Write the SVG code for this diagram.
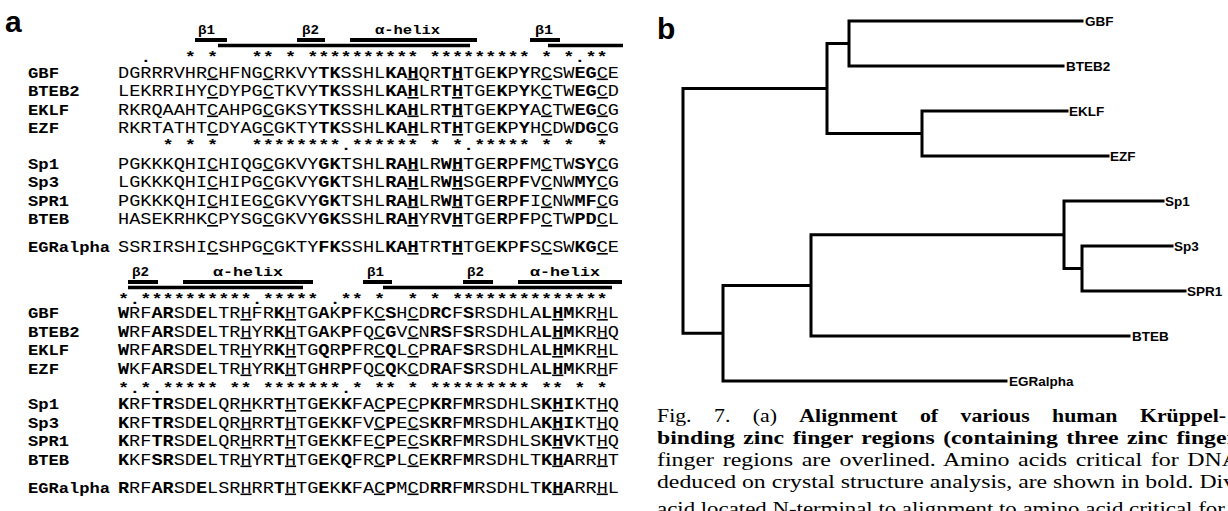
<svg xmlns="http://www.w3.org/2000/svg" width="1228" height="511" viewBox="0 0 1228 511">
<style>
text{fill:#000}
.pl{font-family:"Liberation Sans",Arial,sans-serif;font-weight:bold;font-size:30px}
.s{font-family:"Liberation Mono","Courier New",monospace;font-size:16px}
.n{font-family:"Liberation Mono","Courier New",monospace;font-size:15px;font-weight:bold}
.st{font-family:"Liberation Mono","Courier New",monospace;font-size:14px;font-weight:bold}
.lb{font-family:"Liberation Mono","Courier New",monospace;font-size:13px;font-weight:bold}
.b{font-weight:bold}
.u{text-decoration:underline}
.bar{stroke:#000;stroke-width:4}
.lbar{stroke:#000;stroke-width:3.5}
.tr{stroke:#000;stroke-width:3;fill:none;stroke-linecap:square}
.lf{font-family:"Liberation Sans",Arial,sans-serif;font-weight:bold;font-size:13.5px}
.cap{font-family:"Liberation Serif","Times New Roman",serif;font-size:18px}
</style>
<g id="panel-a">
<text class="pl" x="5" y="32">a</text>
<g id="block1-header">
<text class="lb" x="198" y="34" textLength="17" lengthAdjust="spacingAndGlyphs">β1</text>
<text class="lb" x="302" y="34" textLength="17" lengthAdjust="spacingAndGlyphs">β2</text>
<text class="lb" x="375" y="34" textLength="65" lengthAdjust="spacingAndGlyphs">α-helix</text>
<text class="lb" x="535" y="34" textLength="18" lengthAdjust="spacingAndGlyphs">β1</text>
<line class="bar" x1="195" y1="40" x2="227" y2="40"/>
<line class="bar" x1="297" y1="40" x2="325" y2="40"/>
<line class="bar" x1="350" y1="40" x2="477" y2="40"/>
<line class="bar" x1="530" y1="40" x2="560" y2="40"/>
<line class="lbar" x1="218" y1="45.5" x2="470" y2="45.5"/>
<line class="lbar" x1="548" y1="45.5" x2="623" y2="45.5"/>
<text class="st" x="118" y="62" xml:space="preserve" textLength="489.7" lengthAdjust="spacingAndGlyphs">  .   * *   ** * ********** ********* * *.**</text>
</g>
<g id="block1-klf">
<text class="n" x="28" y="77.5" textLength="31" lengthAdjust="spacingAndGlyphs">GBF</text>
<text class="s" x="118" y="77.5" textLength="501" lengthAdjust="spacingAndGlyphs">DGRRRVHR<tspan class="u">C</tspan>HFNG<tspan class="u">C</tspan>RKVY<tspan class="b">TK</tspan>SSHL<tspan class="b">KA</tspan><tspan class="b u">H</tspan>QR<tspan class="b">T</tspan><tspan class="b u">H</tspan>TGE<tspan class="b">K</tspan>P<tspan class="b">Y</tspan>R<tspan class="u">C</tspan>SW<tspan class="b">EG</tspan><tspan class="u">C</tspan>E</text>
<text class="n" x="28" y="96" textLength="51.5" lengthAdjust="spacingAndGlyphs">BTEB2</text>
<text class="s" x="118" y="96" textLength="501" lengthAdjust="spacingAndGlyphs">LEKRRIHY<tspan class="u">C</tspan>DYPG<tspan class="u">C</tspan>TKVY<tspan class="b">TK</tspan>SSHL<tspan class="b">KA</tspan><tspan class="b u">H</tspan>LR<tspan class="b">T</tspan><tspan class="b u">H</tspan>TGE<tspan class="b">K</tspan>P<tspan class="b">Y</tspan>K<tspan class="u">C</tspan>TW<tspan class="b">EG</tspan><tspan class="u">C</tspan>D</text>
<text class="n" x="28" y="114.5" textLength="41" lengthAdjust="spacingAndGlyphs">EKLF</text>
<text class="s" x="118" y="114.5" textLength="501" lengthAdjust="spacingAndGlyphs">RKRQAAHT<tspan class="u">C</tspan>AHPG<tspan class="u">C</tspan>GKSY<tspan class="b">TK</tspan>SSHL<tspan class="b">KA</tspan><tspan class="b u">H</tspan>LR<tspan class="b">T</tspan><tspan class="b u">H</tspan>TGE<tspan class="b">K</tspan>P<tspan class="b">Y</tspan>A<tspan class="u">C</tspan>TW<tspan class="b">EG</tspan><tspan class="u">C</tspan>G</text>
<text class="n" x="28" y="133" textLength="31" lengthAdjust="spacingAndGlyphs">EZF</text>
<text class="s" x="118" y="133" textLength="501" lengthAdjust="spacingAndGlyphs">RKRTATHT<tspan class="u">C</tspan>DYAG<tspan class="u">C</tspan>GKTY<tspan class="b">TK</tspan>SSHL<tspan class="b">KA</tspan><tspan class="b u">H</tspan>LR<tspan class="b">T</tspan><tspan class="b u">H</tspan>TGE<tspan class="b">K</tspan>P<tspan class="b">Y</tspan>H<tspan class="u">C</tspan>DW<tspan class="b">DG</tspan><tspan class="u">C</tspan>G</text>
</g>
<text class="st" x="118" y="150" xml:space="preserve" textLength="489.7" lengthAdjust="spacingAndGlyphs">    * * *   ********.****** * *.***** * *  *</text>
<g id="block1-sp">
<text class="n" x="28" y="168.5" textLength="31" lengthAdjust="spacingAndGlyphs">Sp1</text>
<text class="s" x="118" y="168.5" textLength="501" lengthAdjust="spacingAndGlyphs">PGKKKQHI<tspan class="u">C</tspan>HIQG<tspan class="u">C</tspan>GKVY<tspan class="b">GK</tspan>TSHL<tspan class="b">RA</tspan><tspan class="b u">H</tspan>LR<tspan class="b">W</tspan><tspan class="b u">H</tspan>TGE<tspan class="b">R</tspan>P<tspan class="b">F</tspan>M<tspan class="u">C</tspan>TW<tspan class="b">SY</tspan><tspan class="u">C</tspan>G</text>
<text class="n" x="28" y="187" textLength="31" lengthAdjust="spacingAndGlyphs">Sp3</text>
<text class="s" x="118" y="187" textLength="501" lengthAdjust="spacingAndGlyphs">LGKKKQHI<tspan class="u">C</tspan>HIPG<tspan class="u">C</tspan>GKVY<tspan class="b">GK</tspan>TSHL<tspan class="b">RA</tspan><tspan class="b u">H</tspan>LR<tspan class="b">W</tspan><tspan class="b u">H</tspan>SGE<tspan class="b">R</tspan>P<tspan class="b">F</tspan>V<tspan class="u">C</tspan>NW<tspan class="b">MY</tspan><tspan class="u">C</tspan>G</text>
<text class="n" x="28" y="205.5" textLength="41" lengthAdjust="spacingAndGlyphs">SPR1</text>
<text class="s" x="118" y="205.5" textLength="501" lengthAdjust="spacingAndGlyphs">PGKKKQHI<tspan class="u">C</tspan>HIEG<tspan class="u">C</tspan>GKVY<tspan class="b">GK</tspan>TSHL<tspan class="b">RA</tspan><tspan class="b u">H</tspan>LR<tspan class="b">W</tspan><tspan class="b u">H</tspan>TGE<tspan class="b">R</tspan>P<tspan class="b">F</tspan>I<tspan class="u">C</tspan>NW<tspan class="b">MF</tspan><tspan class="u">C</tspan>G</text>
<text class="n" x="28" y="224" textLength="41" lengthAdjust="spacingAndGlyphs">BTEB</text>
<text class="s" x="118" y="224" textLength="501" lengthAdjust="spacingAndGlyphs">HASEKRHK<tspan class="u">C</tspan>PYSG<tspan class="u">C</tspan>GKVY<tspan class="b">GK</tspan>SSHL<tspan class="b">RA</tspan><tspan class="b u">H</tspan>YR<tspan class="b">V</tspan><tspan class="b u">H</tspan>TGE<tspan class="b">R</tspan>P<tspan class="b">F</tspan>P<tspan class="u">C</tspan>TW<tspan class="b">PD</tspan><tspan class="u">C</tspan>L</text>
</g>
<g id="block1-egr">
<text class="n" x="28" y="252" textLength="82" lengthAdjust="spacingAndGlyphs">EGRalpha</text>
<text class="s" x="118" y="252" textLength="501" lengthAdjust="spacingAndGlyphs">SSRIRSHI<tspan class="u">C</tspan>SHPG<tspan class="u">C</tspan>GKTY<tspan class="b">FK</tspan>SSHL<tspan class="b">KA</tspan><tspan class="b u">H</tspan>TR<tspan class="b">T</tspan><tspan class="b u">H</tspan>TGE<tspan class="b">K</tspan>P<tspan class="b">F</tspan>S<tspan class="u">C</tspan>SW<tspan class="b">KG</tspan><tspan class="u">C</tspan>E</text>
</g>
<g id="block2-header">
<text class="lb" x="132" y="276" textLength="17" lengthAdjust="spacingAndGlyphs">β2</text>
<text class="lb" x="213" y="276" textLength="70" lengthAdjust="spacingAndGlyphs">α-helix</text>
<text class="lb" x="367" y="276" textLength="17" lengthAdjust="spacingAndGlyphs">β1</text>
<text class="lb" x="467" y="276" textLength="17" lengthAdjust="spacingAndGlyphs">β2</text>
<text class="lb" x="530" y="276" textLength="70" lengthAdjust="spacingAndGlyphs">α-helix</text>
<line class="bar" x1="128" y1="282" x2="158" y2="282"/>
<line class="bar" x1="183" y1="282" x2="313" y2="282"/>
<line class="bar" x1="363" y1="282" x2="392" y2="282"/>
<line class="bar" x1="463" y1="282" x2="493" y2="282"/>
<line class="bar" x1="518" y1="282" x2="622" y2="282"/>
<line class="lbar" x1="128" y1="287.5" x2="303" y2="287.5"/>
<line class="lbar" x1="383" y1="287.5" x2="612" y2="287.5"/>
<text class="st" x="118" y="303.5" xml:space="preserve" textLength="489.7" lengthAdjust="spacingAndGlyphs">*.**********.***** .** *  * * **************</text>
</g>
<g id="block2-klf">
<text class="n" x="28" y="318" textLength="31" lengthAdjust="spacingAndGlyphs">GBF</text>
<text class="s" x="118" y="318" textLength="501" lengthAdjust="spacingAndGlyphs"><tspan class="b">W</tspan>RF<tspan class="b">AR</tspan>SD<tspan class="b">E</tspan>LTR<tspan class="u">H</tspan>FR<tspan class="b">K</tspan><tspan class="u">H</tspan>TG<tspan class="b">A</tspan>K<tspan class="b">P</tspan>FK<tspan class="u">C</tspan><tspan class="b">S</tspan>H<tspan class="u">C</tspan>D<tspan class="b">RC</tspan>F<tspan class="b">S</tspan>RSDHLA<tspan class="b">L</tspan><tspan class="b u">H</tspan><tspan class="b">M</tspan>KR<tspan class="u">H</tspan>L</text>
<text class="n" x="28" y="336.5" textLength="51.5" lengthAdjust="spacingAndGlyphs">BTEB2</text>
<text class="s" x="118" y="336.5" textLength="501" lengthAdjust="spacingAndGlyphs"><tspan class="b">W</tspan>RF<tspan class="b">AR</tspan>SD<tspan class="b">E</tspan>LTR<tspan class="u">H</tspan>YR<tspan class="b">K</tspan><tspan class="u">H</tspan>TG<tspan class="b">A</tspan>K<tspan class="b">P</tspan>FQ<tspan class="u">C</tspan><tspan class="b">G</tspan>V<tspan class="u">C</tspan>N<tspan class="b">RS</tspan>F<tspan class="b">S</tspan>RSDHLA<tspan class="b">L</tspan><tspan class="b u">H</tspan><tspan class="b">M</tspan>KR<tspan class="u">H</tspan>Q</text>
<text class="n" x="28" y="355" textLength="41" lengthAdjust="spacingAndGlyphs">EKLF</text>
<text class="s" x="118" y="355" textLength="501" lengthAdjust="spacingAndGlyphs"><tspan class="b">W</tspan>RF<tspan class="b">AR</tspan>SD<tspan class="b">E</tspan>LTR<tspan class="u">H</tspan>YR<tspan class="b">K</tspan><tspan class="u">H</tspan>TG<tspan class="b">Q</tspan>R<tspan class="b">P</tspan>FR<tspan class="u">C</tspan><tspan class="b">Q</tspan>L<tspan class="u">C</tspan>P<tspan class="b">RA</tspan>F<tspan class="b">S</tspan>RSDHLA<tspan class="b">L</tspan><tspan class="b u">H</tspan><tspan class="b">M</tspan>KR<tspan class="u">H</tspan>L</text>
<text class="n" x="28" y="373.5" textLength="31" lengthAdjust="spacingAndGlyphs">EZF</text>
<text class="s" x="118" y="373.5" textLength="501" lengthAdjust="spacingAndGlyphs"><tspan class="b">W</tspan>KF<tspan class="b">AR</tspan>SD<tspan class="b">E</tspan>LTR<tspan class="u">H</tspan>YR<tspan class="b">K</tspan><tspan class="u">H</tspan>TG<tspan class="b">H</tspan>R<tspan class="b">P</tspan>FQ<tspan class="u">C</tspan><tspan class="b">Q</tspan>K<tspan class="u">C</tspan>D<tspan class="b">RA</tspan>F<tspan class="b">S</tspan>RSDHLA<tspan class="b">L</tspan><tspan class="b u">H</tspan><tspan class="b">M</tspan>KR<tspan class="u">H</tspan>F</text>
</g>
<text class="st" x="118" y="392.5" xml:space="preserve" textLength="489.7" lengthAdjust="spacingAndGlyphs">*.*.***** ** *******.* ** * ********* ** * *</text>
<g id="block2-sp">
<text class="n" x="28" y="409" textLength="31" lengthAdjust="spacingAndGlyphs">Sp1</text>
<text class="s" x="118" y="409" textLength="501" lengthAdjust="spacingAndGlyphs"><tspan class="b">K</tspan>RF<tspan class="b">TR</tspan>SD<tspan class="b">E</tspan>LQR<tspan class="u">H</tspan>KR<tspan class="b">T</tspan><tspan class="u">H</tspan>TG<tspan class="b">E</tspan>K<tspan class="b">K</tspan>FA<tspan class="u">C</tspan><tspan class="b">P</tspan>E<tspan class="u">C</tspan>P<tspan class="b">KR</tspan>F<tspan class="b">M</tspan>RSDHLS<tspan class="b">K</tspan><tspan class="b u">H</tspan><tspan class="b">I</tspan>KT<tspan class="u">H</tspan>Q</text>
<text class="n" x="28" y="427.5" textLength="31" lengthAdjust="spacingAndGlyphs">Sp3</text>
<text class="s" x="118" y="427.5" textLength="501" lengthAdjust="spacingAndGlyphs"><tspan class="b">K</tspan>RF<tspan class="b">TR</tspan>SD<tspan class="b">E</tspan>LQR<tspan class="u">H</tspan>RR<tspan class="b">T</tspan><tspan class="u">H</tspan>TG<tspan class="b">E</tspan>K<tspan class="b">K</tspan>FV<tspan class="u">C</tspan><tspan class="b">P</tspan>E<tspan class="u">C</tspan>S<tspan class="b">KR</tspan>F<tspan class="b">M</tspan>RSDHLA<tspan class="b">K</tspan><tspan class="b u">H</tspan><tspan class="b">I</tspan>KT<tspan class="u">H</tspan>Q</text>
<text class="n" x="28" y="446" textLength="41" lengthAdjust="spacingAndGlyphs">SPR1</text>
<text class="s" x="118" y="446" textLength="501" lengthAdjust="spacingAndGlyphs"><tspan class="b">K</tspan>RF<tspan class="b">TR</tspan>SD<tspan class="b">E</tspan>LQR<tspan class="u">H</tspan>RR<tspan class="b">T</tspan><tspan class="u">H</tspan>TG<tspan class="b">E</tspan>K<tspan class="b">K</tspan>FE<tspan class="u">C</tspan><tspan class="b">P</tspan>E<tspan class="u">C</tspan>S<tspan class="b">KR</tspan>F<tspan class="b">M</tspan>RSDHLS<tspan class="b">K</tspan><tspan class="b u">H</tspan><tspan class="b">V</tspan>KT<tspan class="u">H</tspan>Q</text>
<text class="n" x="28" y="464.5" textLength="41" lengthAdjust="spacingAndGlyphs">BTEB</text>
<text class="s" x="118" y="464.5" textLength="501" lengthAdjust="spacingAndGlyphs"><tspan class="b">K</tspan>KF<tspan class="b">SR</tspan>SD<tspan class="b">E</tspan>LTR<tspan class="u">H</tspan>YR<tspan class="b">T</tspan><tspan class="u">H</tspan>TG<tspan class="b">E</tspan>K<tspan class="b">Q</tspan>FR<tspan class="u">C</tspan><tspan class="b">P</tspan>L<tspan class="u">C</tspan>E<tspan class="b">KR</tspan>F<tspan class="b">M</tspan>RSDHLT<tspan class="b">K</tspan><tspan class="b u">H</tspan><tspan class="b">A</tspan>RR<tspan class="u">H</tspan>T</text>
</g>
<g id="block2-egr">
<text class="n" x="28" y="492.5" textLength="82" lengthAdjust="spacingAndGlyphs">EGRalpha</text>
<text class="s" x="118" y="492.5" textLength="501" lengthAdjust="spacingAndGlyphs"><tspan class="b">R</tspan>RF<tspan class="b">AR</tspan>SD<tspan class="b">E</tspan>LSR<tspan class="u">H</tspan>RR<tspan class="b">T</tspan><tspan class="u">H</tspan>TG<tspan class="b">E</tspan>K<tspan class="b">K</tspan>FA<tspan class="u">C</tspan><tspan class="b">P</tspan>M<tspan class="u">C</tspan>D<tspan class="b">RR</tspan>F<tspan class="b">M</tspan>RSDHLT<tspan class="b">K</tspan><tspan class="b u">H</tspan><tspan class="b">A</tspan>RR<tspan class="u">H</tspan>L</text>
</g>
</g>
<g id="panel-b">
<text class="pl" x="657" y="39">b</text>
<g id="connectors">
<path class="tr" d="M683,88.5V333.2M683,88.5H827M827,43.5V133.5M827,43.5H849M849,21V66M849,21H1082M849,66H1063M827,133.5H922M922,111V156M922,111H1067M922,156H1108M683,333.2H723M723,285.4V381M723,381H1006M723,285.4H811M811,234.8V336M811,336H1129M811,234.8H1064M1064,201V268.5M1064,201H1163M1064,268.5H1082M1082,246V291M1082,246H1172M1082,291H1185"/>
</g>
<g id="leaf-GBF"><text class="lf" x="1085" y="26">GBF</text></g>
<g id="leaf-BTEB2"><text class="lf" x="1066" y="71">BTEB2</text></g>
<g id="leaf-EKLF"><text class="lf" x="1069" y="116">EKLF</text></g>
<g id="leaf-EZF"><text class="lf" x="1110" y="161">EZF</text></g>
<g id="leaf-Sp1"><text class="lf" x="1165" y="206">Sp1</text></g>
<g id="leaf-Sp3"><text class="lf" x="1174" y="251">Sp3</text></g>
<g id="leaf-SPR1"><text class="lf" x="1187" y="296">SPR1</text></g>
<g id="leaf-BTEB"><text class="lf" x="1132" y="341">BTEB</text></g>
<g id="leaf-EGRalpha"><text class="lf" x="1009" y="386">EGRalpha</text></g>
</g>
<g id="caption">
<text class="cap" x="657" y="422" textLength="569" lengthAdjust="spacingAndGlyphs" word-spacing="14">Fig. 7.  (a) <tspan class="b">Alignment of various human Krüppel-</tspan></text>
<text class="cap b" x="657" y="444" textLength="580" lengthAdjust="spacingAndGlyphs" word-spacing="2">binding zinc finger regions (containing three zinc finger</text>
<text class="cap" x="657" y="466" textLength="582" lengthAdjust="spacingAndGlyphs" word-spacing="2">finger regions are overlined. Amino acids critical for DNA</text>
<text class="cap" x="657" y="488" textLength="578" lengthAdjust="spacingAndGlyphs">deduced on crystal structure analysis, are shown in bold. Div</text>
<text class="cap" x="657" y="515" textLength="590" lengthAdjust="spacingAndGlyphs">acid located N-terminal to alignment to amino acid critical for D</text>
</g>
</svg>
